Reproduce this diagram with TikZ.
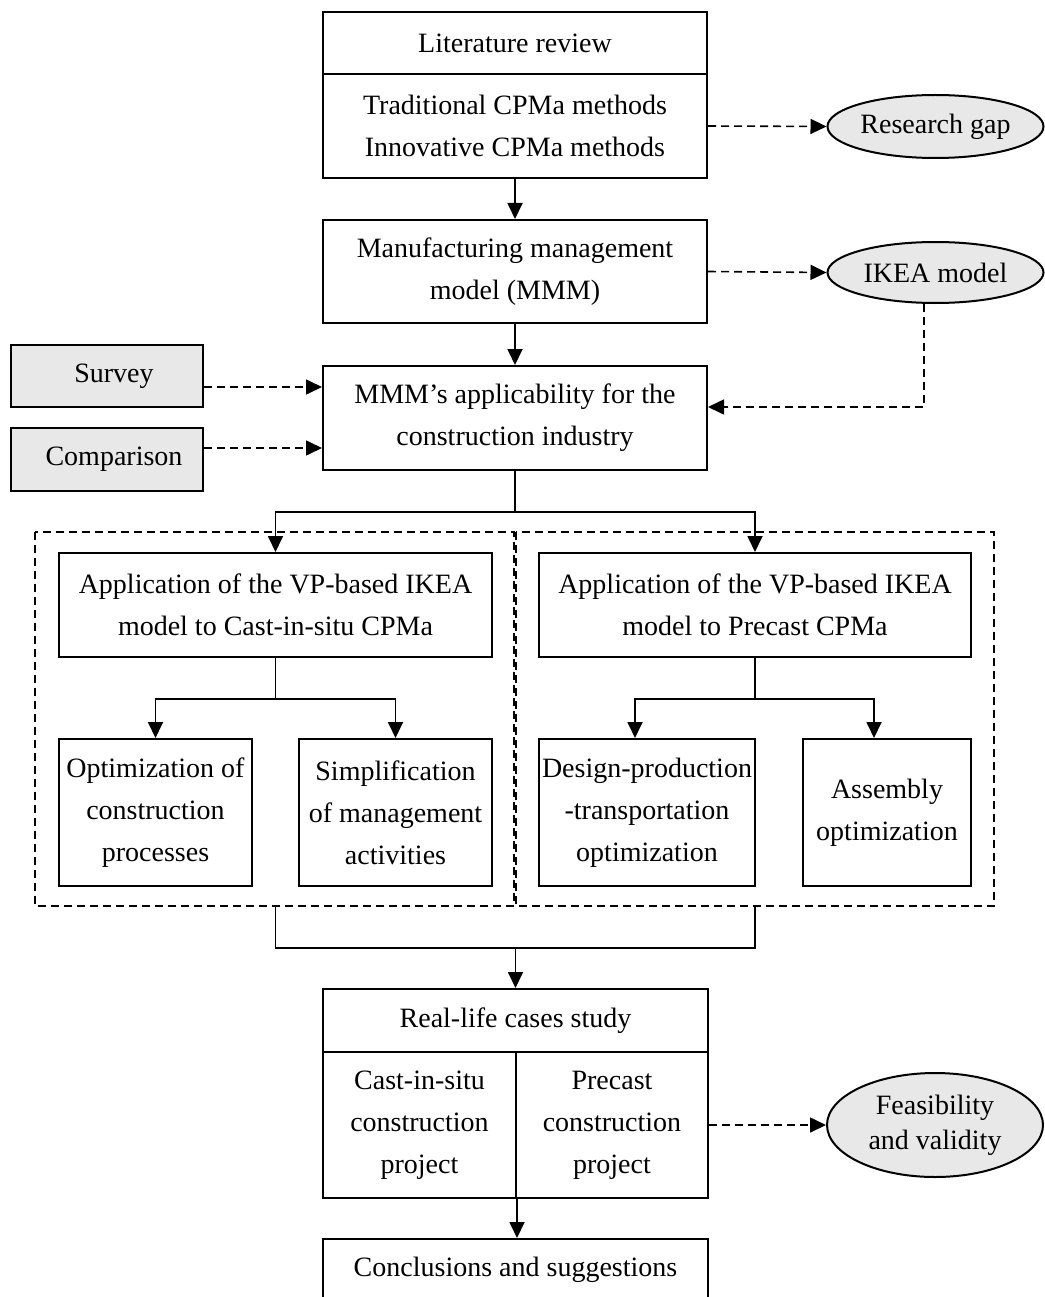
\documentclass[tikz,border=0pt]{standalone}
\usepackage{fontspec}
\setmainfont{Liberation Serif}
\usetikzlibrary{arrows.meta,shapes.geometric}
\definecolor{gfill}{RGB}{232,232,232}
\begin{document}
\begin{tikzpicture}[x=1pt,y=-1pt,
 box/.style={draw,line width=2pt,inner sep=0pt,align=center,font=\fontsize{28}{42}\selectfont},
 gbox/.style={box,fill=gfill},
 oval/.style={ellipse,draw,line width=2pt,fill=gfill,inner sep=0pt,align=center,font=\fontsize{28}{35}\selectfont},
 arr/.style={line width=1.8pt,-{Triangle[length=16pt,width=15pt]}},
 darr/.style={line width=1.6pt,dash pattern=on 8pt off 5pt,-{Triangle[length=16pt,width=15pt]}},
 ln/.style={line width=1.8pt},
 frame/.style={line width=1.6pt,dash pattern=on 8pt off 5pt}]
\useasboundingbox (0,0) rectangle (1044,1297);

% top column
\node[box,minimum width=384pt,minimum height=62pt] (lrt) at (515,43) {Literature review};
\node[box,minimum width=384pt,minimum height=104pt] (lrb) at (515,126) {Traditional CPMa methods\\Innovative CPMa methods};
\node[box,minimum width=384pt,minimum height=103pt] (mmm) at (515,271.5) {Manufacturing management\\model (MMM)};
\node[box,minimum width=384pt,minimum height=104pt] (app) at (515,418) {MMM’s applicability for the\\construction industry};

% side inputs
\node[gbox,minimum width=192pt,minimum height=62pt] (survey) at (107,376) {\hspace*{14pt}Survey};
\node[gbox,minimum width=192pt,minimum height=63pt] (comp) at (107,459.5) {\hspace*{14pt}Comparison};

% ellipses
\node[oval,minimum width=216pt,minimum height=63pt] (gap) at (935.5,126.5) {Research gap};
\node[oval,minimum width=216pt,minimum height=61pt] (ikea) at (935.5,272.5) {IKEA model};
\node[oval,minimum width=216pt,minimum height=104pt] (feas) at (935,1125) {Feasibility\\and validity};

% dashed frames
\draw[frame] (35,532) rectangle (514,906);
\draw[frame] (516,532) rectangle (994,906);

% applications
\node[box,minimum width=433pt,minimum height=104pt] (appL) at (275.5,605) {Application of the VP-based IKEA\\model to Cast-in-situ CPMa};
\node[box,minimum width=432pt,minimum height=104pt] (appR) at (755,605) {Application of the VP-based IKEA\\model to Precast CPMa};

\node[box,minimum width=193pt,minimum height=147pt] (opt) at (155.5,812.5) {Optimization of\\construction\\processes};
\node[box,minimum width=193pt,minimum height=147pt] (simp) at (395.5,812.5) {Simplification\\of management\\activities};
\node[box,minimum width=216pt,minimum height=147pt] (des) at (647,812.5) {Design-production\\-transportation\\optimization};
\node[box,minimum width=168pt,minimum height=147pt] (asm) at (887,812.5) {Assembly\\optimization};

% case study
\node[box,minimum width=385pt,minimum height=63pt] (rlt) at (515.5,1020.5) {Real-life cases study};
\node[box,minimum width=193pt,minimum height=146pt] (rl1) at (419.5,1125) {Cast-in-situ\\construction\\project};
\node[box,minimum width=192pt,minimum height=146pt] (rl2) at (612,1125) {Precast\\construction\\project};
\node[box,minimum width=385pt,minimum height=62pt] (conc) at (515.5,1270) {Conclusions and suggestions};

% connectors
\draw[arr] (lrb) -- (mmm);
\draw[arr] (mmm) -- (app);
\draw[darr] (lrb.east) -- (gap.west);
\draw[darr] (mmm.east) -- (ikea.west);
\coordinate (ik) at (924,407);
\draw[darr] (ikea.south -| ik) -- (ik) -- (app.east |- ik);
\coordinate (sy) at (0,387);
\coordinate (cy) at (0,448);
\draw[darr] (survey.east |- sy) -- (app.west |- sy);
\draw[darr] (comp.east |- cy) -- (app.west |- cy);

\coordinate (b1) at (515,512);
\draw[ln] (app.south) -- (b1);
\draw[arr] (b1) -| (appL.north);
\draw[arr] (b1) -| (appR.north);

\coordinate (bL) at (275.5,699);
\draw[ln] (appL.south) -- (bL);
\draw[arr] (bL) -| (opt.north);
\draw[arr] (bL) -| (simp.north);
\coordinate (bR) at (755,699);
\draw[ln] (appR.south) -- (bR);
\draw[arr] (bR) -| ([xshift=-12pt]des.north);
\draw[arr] (bR) -| ([xshift=-13pt]asm.north);

\coordinate (mL) at (275.5,906);
\coordinate (mR) at (755,906);
\coordinate (j) at (515.5,948);
\draw[ln] (mL) |- (j) -| (mR);
\draw[arr] (j) -- (rlt.north);
\draw[arr] (rl1.south east) -- (rl1.south east |- conc.north);
\draw[darr] (rl2.east) -- (feas.west);
\end{tikzpicture}
\end{document}
